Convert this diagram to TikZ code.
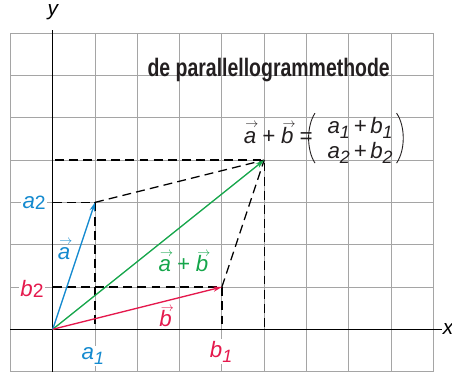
\documentclass[tikz,border=0pt]{standalone}
\usepackage{fontspec}
\usepackage{graphicx}
\setmainfont{Liberation Sans}
\usetikzlibrary{arrows.meta}
\definecolor{cblue}{RGB}{20,138,207}
\definecolor{cred}{RGB}{229,25,77}
\definecolor{cgreen}{RGB}{22,166,75}
\definecolor{cgrid}{RGB}{165,165,165}
\definecolor{ctext}{RGB}{35,31,32}
\newcommand{\vv}[1]{\leavevmode\vbox{\offinterlineskip\halign{\hfil##\hfil\cr\kern2.5pt\scalebox{0.8}{$\scriptstyle\rightarrow$}\cr\noalign{\kern-0.5pt}\vphantom{b}#1\cr}}}
\newcommand{\lsub}[1]{\raisebox{-0.22em}{\fontsize{12}{12}\selectfont\itshape #1}}
\newcommand{\hsub}[1]{\raisebox{-0.02em}{\fontsize{13}{13}\selectfont\upshape #1}}
\begin{document}
\begin{tikzpicture}[x=1cm,y=1cm,
  lab/.style={font=\fontsize{15}{18}\selectfont\itshape, inner sep=1pt},
  knock/.style={lab, fill=white, inner sep=1.2pt},
  vecline/.style={line width=0.9pt, -{Stealth[length=6pt,width=3.6pt]}},
  dline/.style={line width=0.85pt, dash pattern=on 6pt off 3.5pt},
  axis/.style={line width=1pt, black}]
\useasboundingbox (-1.246,-1.009) rectangle (9.44,7.785);
\draw[cgrid, line width=0.6pt] (-1,-1) grid (9,7);
% coordinates
\coordinate (O) at (0,0);
\coordinate (A) at (1,3);
\coordinate (B) at (4,1);
\coordinate (S) at (5,4);
\coordinate (A1) at (1,0);
\coordinate (A2) at (0,3);
\coordinate (B1) at (4,0);
\coordinate (B2) at (0,1);
\coordinate (S1) at (5,0);
\coordinate (S2) at (0.05,4);
\coordinate (XL) at (-1,0);
\coordinate (XR) at (9.2,0);
\coordinate (YB) at (0,-1);
\coordinate (YT) at (0,7.07);
% title
\node[anchor=base west, inner sep=0, text=ctext] (title) at (2.236,5.98)
  {\fontsize{17}{20}\selectfont\bfseries\scalebox{0.77}[1]{de parallellogrammethode}};
% axes
\draw[axis] (XL) -- (XR);
\draw[axis] (YB) -- (YT);
\node[lab, font=\fontsize{14}{16}\selectfont\itshape] (xlab) at (9.35,0.0) {x};
\node[lab, font=\fontsize{14}{16}\selectfont\itshape, anchor=base] (ylab) at (0.0,7.43) {y};
% dashed lines
\draw[dline] (S2) -- (S) -- (S1);
\draw[dline] (A2) -- (A) -- (A1);
\draw[dline] (A) -- (S);
\draw[dline] (B2) -- (B) -- (B1);
\draw[dline] (B) -- (S);
% vectors
\draw[vecline, cgreen] (O) -- (S);
\draw[vecline, cblue] (O) -- (A);
\draw[vecline, cred] (O) -- (B);
% axis labels
\node[knock, text=cblue] (la2) at (-0.44,3.0) {a\hsub{2}};
\node[knock, text=cred] (lb2) at (-0.49,0.95) {b\hsub{2}};
\node[knock, text=cblue, anchor=base] (la1) at (0.95,-0.72) {a\lsub{1}};
\node[knock, text=cred, anchor=base] (lb1) at (3.98,-0.66) {b\lsub{1}};
% vector labels
\node[lab, text=cblue, anchor=base] (va) at (0.27,1.64) {\vv{a}};
\node[lab, text=cred, anchor=base] (vb) at (2.67,0.06) {\vv{b}};
\node[lab, text=cgreen, anchor=base] (vs) at (3.09,1.36) {\vv{a}\,+\,\vv{b}};
% formula
\node[lab, text=ctext, anchor=base west, inner sep=0] (feq) at (4.46,4.40) {\vv{a}\,+\,\vv{b}\,=};
\node[lab, text=ctext, anchor=base west, inner sep=0] (r1) at (6.49,4.63) {a\lsub{1}\,+\,b\lsub{1}};
\node[lab, text=ctext, anchor=base west, inner sep=0] (r2) at (6.49,4.04) {a\lsub{2}\,+\,b\lsub{2}};
\coordinate (PLt) at (6.2,5.11);
\coordinate (PLb) at (6.2,3.93);
\coordinate (PRt) at (8.13,5.11);
\coordinate (PRb) at (8.13,3.93);
\draw[line width=0.6pt, ctext] (PLt) .. controls (6.0,4.8) and (6.0,4.24) .. (PLb);
\draw[line width=0.6pt, ctext] (PRt) .. controls (8.34,4.8) and (8.34,4.24) .. (PRb);
\end{tikzpicture}
\end{document}
